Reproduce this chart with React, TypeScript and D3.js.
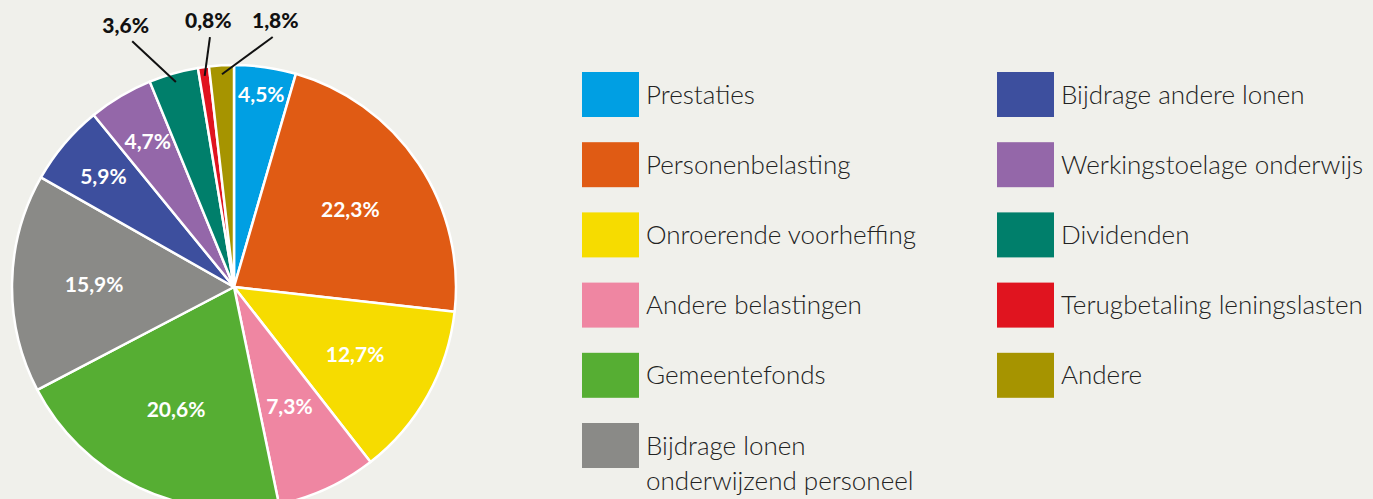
import React from "react";
import * as d3 from "d3";

const categories = [
  "Prestaties",
  "Personenbelasting",
  "Onroerende voorheffing",
  "Andere belastingen",
  "Gemeentefonds",
  "Bijdrage lonen onderwijzend personeel",
  "Bijdrage andere lonen",
  "Werkingstoelage onderwijs",
  "Dividenden",
  "Terugbetaling leningslasten",
  "Andere",
];
const values = [4.5, 22.3, 12.7, 7.3, 20.6, 15.9, 5.9, 4.7, 3.6, 0.8, 1.8];
const valueLabels = ["4,5%", "22,3%", "12,7%", "7,3%", "20,6%", "15,9%", "5,9%", "4,7%", "3,6%", "0,8%", "1,8%"];
const colors = ["#009FE3", "#E05B14", "#F6DC00", "#EF86A2", "#56AE33", "#8A8A87", "#3D4F9E", "#9467A9", "#007F6B", "#E0141F", "#A69400"];
const legendLines = [
  ["Prestaties"],
  ["Personenbelasting"],
  ["Onroerende voorheffing"],
  ["Andere belastingen"],
  ["Gemeentefonds"],
  ["Bijdrage lonen", "onderwijzend personeel"],
  ["Bijdrage andere lonen"],
  ["Werkingstoelage onderwijs"],
  ["Dividenden"],
  ["Terugbetaling leningslasten"],
  ["Andere"],
];

// label placement (style): inside label radius as fraction of R; outside labels angle (deg) + radius
const insideRadius = [0.875, 0.63, 0.625, 0.595, 0.61, 0.63, 0.77, 0.76];
const outsideAngle = [337.5, 354.5, 8.8];
const outsideRadius = [283, 268, 270];

export default function App() {
  const W = 1373, H = 499;
  const cx = 234, cy = 287, R = 222;
  const pie = d3.pie<number>().sort(null).value((d) => d)(values);
  const arc = d3.arc<d3.PieArcDatum<number>>().innerRadius(0).outerRadius(R);
  const polar = (deg: number, r: number) => {
    const a = (deg * Math.PI) / 180;
    return [cx + r * Math.sin(a), cy - r * Math.cos(a)];
  };
  const deg = (rad: number) => (rad * 180) / Math.PI;

  return (
    <>
      <style>{`body{margin:0;background:#F0F0EB}`}</style>
      <svg width={W} height={H} style={{ display: "block", background: "#F0F0EB" }}>
        <g transform={`translate(${cx},${cy})`}>
          {pie.map((p, i) => (
            <path key={i} d={arc(p) || ""} fill={colors[i]} stroke="#fff" strokeWidth={2.5} strokeLinejoin="round" />
          ))}
        </g>
        {pie.map((p, i) => {
          const mid = deg((p.startAngle + p.endAngle) / 2);
          if (i < insideRadius.length) {
            const [x, y] = polar(mid, insideRadius[i] * R);
            return (
              <text key={i} x={x} y={y} dy="0.35em" textAnchor="middle" fill="#fff"
                fontFamily="Lato, 'Open Sans', sans-serif" fontWeight={700} fontSize={21}>
                {valueLabels[i]}
              </text>
            );
          }
          const k = i - insideRadius.length;
          const [x1, y1] = polar(mid, R * 0.96);
          const [x2, y2] = polar(outsideAngle[k], outsideRadius[k] - 17);
          const [tx, ty] = polar(outsideAngle[k], outsideRadius[k]);
          return (
            <g key={i}>
              <line x1={x1} y1={y1} x2={x2} y2={y2} stroke="#111" strokeWidth={2} />
              <text x={tx} y={ty} dy="0.35em" textAnchor="middle" fill="#111"
                fontFamily="Lato, 'Open Sans', sans-serif" fontWeight={900} fontSize={21}>
                {valueLabels[i]}
              </text>
            </g>
          );
        })}
        {categories.map((c, i) => {
          const col = i < 6 ? 0 : 1;
          const row = i < 6 ? i : i - 6;
          const x = col === 0 ? 582 : 997;
          const y = 72 + row * 70.2;
          return (
            <g key={c}>
              <rect x={x} y={y} width={57} height={45} fill={colors[i]} />
              {legendLines[i].map((ln, j) => (
                <text key={j} x={x + 64} y={y + 22.5 + j * 35} dy="0.35em" fill="#222"
                  fontFamily="Lato, 'Open Sans', sans-serif" fontWeight={300} fontSize={26}>
                  {ln}
                </text>
              ))}
            </g>
          );
        })}
      </svg>
    </>
  );
}
